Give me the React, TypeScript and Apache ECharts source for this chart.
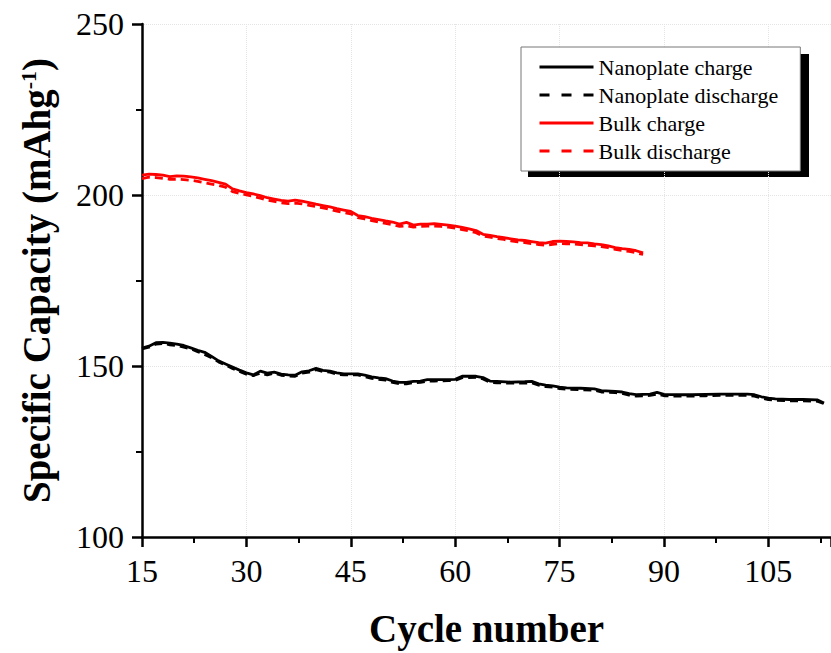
import React, { useEffect, useRef } from "react";
import * as echarts from "echarts";

const FONT = "Liberation Serif";

const nanoCycles = [15,16,17,18,19,20,21,22,23,24,25,26,27,28,29,30,31,32,33,34,35,36,37,38,39,40,41,42,43,44,46,47,48,49,50,51,52,53,54,55,56,57,59,60,61,63,64,65,66,68,70,71,72,73,74,75,76,78,80,81,83,84,85,86,87,88,89,90,92,94,96,98,100,102,103,104,105,106,108,110,112,113];
const nanoCharge = [155.2,155.8,156.8,156.9,156.7,156.4,156.0,155.3,154.6,154.0,152.8,151.5,150.6,149.7,148.8,148.0,147.4,148.5,147.9,148.2,147.6,147.4,147.3,148.3,148.6,149.3,148.7,148.5,148.0,147.7,147.7,147.3,146.8,146.5,146.3,145.6,145.2,145.2,145.5,145.6,146.0,146.0,146.0,146.1,147.0,147.0,146.6,145.6,145.5,145.3,145.4,145.5,144.8,144.4,144.2,143.8,143.6,143.5,143.3,142.8,142.6,142.4,141.9,141.6,141.7,141.8,142.3,141.7,141.6,141.6,141.7,141.8,141.8,141.8,141.6,141.0,140.6,140.4,140.2,140.2,140.1,139.2];
const nanoDischarge = [155.0,155.5,156.4,156.6,156.2,156.0,155.5,155.0,154.2,153.4,152.4,151.2,150.3,149.3,148.4,147.6,147.2,147.9,147.4,147.9,147.3,147.1,147.0,147.9,148.2,148.9,148.4,148.2,147.6,147.4,147.4,146.9,146.4,146.1,145.9,145.2,144.8,144.8,145.1,145.2,145.6,145.6,145.7,145.8,146.6,146.7,146.2,145.2,145.1,145.0,145.0,145.1,144.4,144.0,143.8,143.4,143.2,143.1,142.9,142.4,142.2,142.0,141.5,141.2,141.3,141.4,141.8,141.3,141.2,141.2,141.3,141.4,141.4,141.4,141.2,140.6,140.2,140.0,139.8,139.8,139.7,139.0];

const bulkCycles = [15,16,17,18,19,20,21,22,23,24,25,26,27,28,29,30,31,32,33,34,35,36,37,38,39,40,41,42,43,44,45,46,47,48,49,50,51,52,53,54,55,56,57,58,59,60,61,62,63,64,65,66,67,68,69,70,71,72,73,74,75,76,77,78,79,80,81,82,83,84,85,86,87];
const bulkCharge = [205.8,206.1,206.0,205.8,205.4,205.6,205.5,205.3,205.0,204.6,204.2,203.7,203.2,201.8,201.2,200.7,200.3,199.8,199.2,198.8,198.4,198.2,198.5,198.2,197.8,197.3,196.9,196.5,196.0,195.6,195.2,194.0,193.7,193.2,192.8,192.4,192.1,191.5,192.0,191.2,191.5,191.5,191.6,191.4,191.2,190.9,190.5,190.1,189.6,188.5,188.2,187.8,187.5,187.2,186.9,186.7,186.4,186.1,185.9,186.4,186.5,186.4,186.3,186.1,186.0,185.7,185.5,185.1,184.6,184.3,184.1,183.7,183.1];
const bulkDischarge = [204.8,205.2,205.1,204.9,204.6,204.6,204.5,204.3,204.0,203.6,203.2,202.8,202.3,201.0,200.5,200.0,199.6,199.1,198.5,198.1,197.7,197.5,197.6,197.4,197.0,196.6,196.2,195.8,195.3,194.9,194.5,193.4,193.0,192.5,192.1,191.7,191.3,190.8,191.0,190.6,190.8,190.9,190.9,190.8,190.6,190.3,189.9,189.5,189.0,188.0,187.7,187.3,187.0,186.6,186.3,186.1,185.8,185.5,185.3,185.6,185.8,185.7,185.7,185.5,185.3,185.1,184.9,184.6,184.1,183.8,183.5,183.1,182.6];

const seriesNames = ["Nanoplate charge", "Nanoplate discharge", "Bulk charge", "Bulk discharge"];

const pairs = (xs: number[], ys: number[]) => xs.map((x, i) => [x, ys[i]]);

export default function App() {
  const ref = useRef<HTMLDivElement>(null);
  useEffect(() => {
    document.body.style.margin = "0";
    const chart = echarts.init(ref.current!, null, { renderer: "svg" });
    const axisCommon = {
      axisLine: { show: true, lineStyle: { color: "#000", width: 2.5 } },
      axisTick: { show: true, length: 10, lineStyle: { color: "#000", width: 2.5 } },
      minorTick: { show: true, splitNumber: 2, length: 6, lineStyle: { color: "#000", width: 2 } },
      splitLine: { show: true, lineStyle: { color: "#e4e4e4", type: "dotted", width: 1 } },
      axisLabel: { fontFamily: FONT, fontSize: 32, color: "#000", margin: 18 },
    };
    const solid = (color: string) => ({ color, width: 2.8, type: "solid" });
    const dashed = (color: string) => ({ color, width: 2.8, type: [8, 5] });
    chart.setOption({
      animation: false,
      grid: { left: 142, right: 0, top: 24, bottom: 114 },
      graphic: [
        { type: "rect", left: 528, top: 54, shape: { width: 281, height: 123 }, style: { fill: "#000" }, z: 0 },
      ],
      legend: {
        orient: "vertical",
        left: 521,
        top: 47,
        padding: [9, 22, 9, 17],
        itemWidth: 54,
        itemHeight: 14,
        itemGap: 6,
        backgroundColor: "#fff",
        borderColor: "#777",
        borderWidth: 1,
        itemStyle: { opacity: 0 },
        textStyle: { fontFamily: FONT, fontSize: 22, color: "#000" },
        data: [
          { name: seriesNames[0], lineStyle: { type: "solid", width: 3 } },
          { name: seriesNames[1], lineStyle: { type: [10, 12], width: 3 } },
          { name: seriesNames[2], lineStyle: { type: "solid", width: 3 } },
          { name: seriesNames[3], lineStyle: { type: [10, 12], width: 3 } },
        ],
      },
      xAxis: {
        type: "value",
        min: 15,
        max: 114,
        interval: 15,
        ...axisCommon,
        axisLabel: { ...axisCommon.axisLabel, showMaxLabel: false },
        name: "Cycle number",
        nameLocation: "middle",
        nameGap: 72,
        nameTextStyle: { fontFamily: FONT, fontSize: 39, fontWeight: "bold", color: "#000" },
      },
      yAxis: {
        type: "value",
        min: 100,
        max: 250,
        interval: 50,
        ...axisCommon,
        name: "{t|Specific Capacity (mAhg}{s|-1}{t|)}",
        nameLocation: "middle",
        nameGap: 86,
        nameRotate: 90,
        nameTextStyle: {
          fontFamily: FONT,
          fontSize: 39,
          fontWeight: "bold",
          color: "#000",
          rich: {
            t: { fontFamily: FONT, fontSize: 39, fontWeight: "bold", color: "#000" },
            s: { fontFamily: FONT, fontSize: 22, fontWeight: "bold", color: "#000", verticalAlign: "top", padding: [0, 0, 14, 0] },
          },
        },
      },
      series: [
        { name: seriesNames[0], type: "line", symbol: "none", data: pairs(nanoCycles, nanoCharge), lineStyle: solid("#000"), itemStyle: { color: "#000" }, z: 3 },
        { name: seriesNames[1], type: "line", symbol: "none", data: pairs(nanoCycles, nanoDischarge), lineStyle: dashed("#000"), itemStyle: { color: "#000" }, z: 2 },
        { name: seriesNames[2], type: "line", symbol: "none", data: pairs(bulkCycles, bulkCharge), lineStyle: solid("#ff0000"), itemStyle: { color: "#ff0000" }, z: 3 },
        { name: seriesNames[3], type: "line", symbol: "none", data: pairs(bulkCycles, bulkDischarge), lineStyle: dashed("#ff0000"), itemStyle: { color: "#ff0000" }, z: 2 },
      ],
    });
    return () => chart.dispose();
  }, []);
  return <div ref={ref} style={{ width: 831, height: 653 }} />;
}
